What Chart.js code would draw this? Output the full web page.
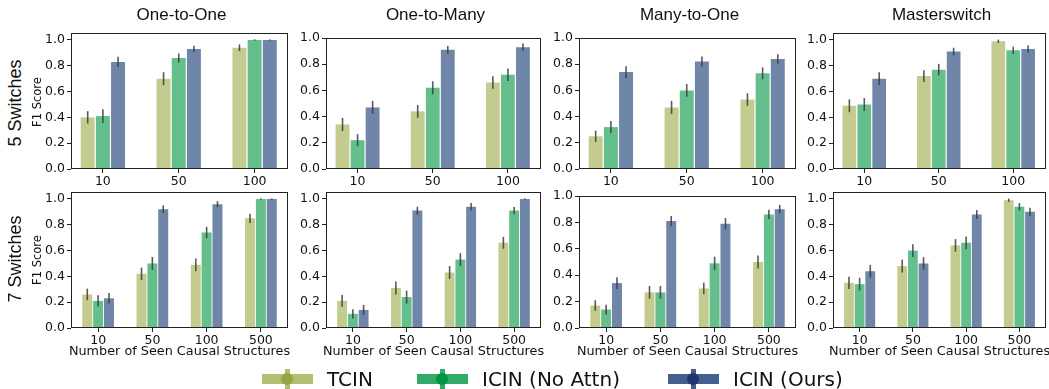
<!DOCTYPE html>
<html>
<head>
<meta charset="utf-8">
<script src="https://cdn.jsdelivr.net/npm/chart.js@4.4.0/dist/chart.umd.min.js"></script>
<style>
  body { margin: 0; background: #fff; }
  #fig { position: relative; width: 1049px; height: 389px; overflow: hidden; background: #fff; font-family: "DejaVu Sans", sans-serif; color: #111; }
  #fig canvas { position: absolute; }
  .txt { position: absolute; white-space: nowrap; line-height: 1; transform: translate(-50%, -50%); }
  .title { font-family: "Liberation Sans", Arial, sans-serif; font-size: 17px; }
  .rowlab { font-family: "Liberation Sans", Arial, sans-serif; font-size: 18px; transform: translate(-50%, -50%) rotate(-90deg); }
  .ylab { font-size: 11.5px; transform: translate(-50%, -50%) rotate(-90deg); }
  .xlab { font-size: 12.8px; }
  .leg { position: absolute; top: 369px; height: 20px; }
  .leg .h { position: absolute; left: 0; top: 5px; width: 51px; height: 10px; }
  .leg .v { position: absolute; left: 23px; top: 0; width: 5px; height: 20px; }
  .leg .d { position: absolute; left: 19px; top: 4px; width: 12px; height: 12px; border-radius: 50%; }
  .leg span { position: absolute; left: 65px; top: 10px; transform: translateY(-50%); font-size: 20px; line-height: 1; white-space: nowrap; }
</style>
</head>
<body>
<div id="fig"></div>
<script>
// categories
const cats5 = ['10', '50', '100'];
const cats7 = ['10', '50', '100', '500'];
const seriesNames = ['TCIN', 'ICIN (No Attn)', 'ICIN (Ours)'];
const yTicks = [0, 0.2, 0.4, 0.6, 0.8, 1.0];

// 5 switches: [TCIN, ICIN (No Attn), ICIN (Ours)]
const oneToOne5 = [[0.40, 0.70, 0.94], [0.41, 0.86, 1.00], [0.83, 0.93, 1.00]];
const oneToOne5Err = [[0.048, 0.05, 0.026], [0.054, 0.035, 0.005], [0.04, 0.025, 0.005]];
const oneToMany5 = [[0.34, 0.44, 0.66], [0.22, 0.62, 0.72], [0.47, 0.91, 0.93]];
const oneToMany5Err = [[0.05, 0.048, 0.048], [0.046, 0.05, 0.048], [0.05, 0.03, 0.028]];
const manyToOne5 = [[0.25, 0.47, 0.53], [0.32, 0.60, 0.73], [0.74, 0.82, 0.84]];
const manyToOne5Err = [[0.043, 0.05, 0.048], [0.046, 0.048, 0.046], [0.045, 0.038, 0.036]];
const master5 = [[0.49, 0.72, 0.99], [0.50, 0.77, 0.92], [0.70, 0.91, 0.93]];
const master5Err = [[0.05, 0.045, 0.013], [0.05, 0.045, 0.028], [0.049, 0.03, 0.028]];

// 7 switches
const oneToOne7 = [[0.26, 0.42, 0.49, 0.85], [0.21, 0.50, 0.74, 1.00], [0.23, 0.92, 0.96, 1.00]];
const oneToOne7Err = [[0.045, 0.048, 0.049, 0.036], [0.044, 0.05, 0.044, 0.005], [0.041, 0.03, 0.023, 0.005]];
const oneToMany7 = [[0.21, 0.31, 0.43, 0.66], [0.11, 0.24, 0.53, 0.91], [0.14, 0.91, 0.94, 1.00]];
const oneToMany7Err = [[0.045, 0.05, 0.05, 0.046], [0.036, 0.05, 0.05, 0.028], [0.039, 0.03, 0.028, 0.005]];
const manyToOne7 = [[0.17, 0.27, 0.30, 0.50], [0.14, 0.27, 0.49, 0.86], [0.34, 0.81, 0.79, 0.90]];
const manyToOne7Err = [[0.04, 0.048, 0.044, 0.049], [0.037, 0.048, 0.05, 0.035], [0.045, 0.039, 0.043, 0.032]];
const master7 = [[0.35, 0.48, 0.64, 0.99], [0.34, 0.60, 0.66, 0.94], [0.44, 0.50, 0.88, 0.90]];
const master7Err = [[0.048, 0.05, 0.049, 0.013], [0.049, 0.049, 0.049, 0.028], [0.049, 0.049, 0.034, 0.031]];

const barColors = ['#c4cb8e', '#64bf8c', '#6f86a8'];
const legLight = ['#b2be70', '#34aa69', '#465f91'];
const legDark = ['#96a545', '#009646', '#1e3773'];

const fig = document.getElementById('fig');

const cols = [[71, 288], [326, 541], [579, 796], [833, 1046]];
const panels = [
  {cats: cats5, vals: oneToOne5, errs: oneToOne5Err, col: 0, top: 33, bottom: 169, ymax: 1.054, xr: [-0.42, 2.44]},
  {cats: cats5, vals: oneToMany5, errs: oneToMany5Err, col: 1, top: 38, bottom: 169, ymax: 1.0, xr: [-0.42, 2.44]},
  {cats: cats5, vals: manyToOne5, errs: manyToOne5Err, col: 2, top: 38, bottom: 169, ymax: 1.0, xr: [-0.42, 2.44]},
  {cats: cats5, vals: master5, errs: master5Err, col: 3, top: 33, bottom: 169, ymax: 1.054, xr: [-0.42, 2.44]},
  {cats: cats7, vals: oneToOne7, errs: oneToOne7Err, col: 0, top: 192, bottom: 328, ymax: 1.054, xr: [-0.5, 3.5]},
  {cats: cats7, vals: oneToMany7, errs: oneToMany7Err, col: 1, top: 192, bottom: 328, ymax: 1.054, xr: [-0.5, 3.5]},
  {cats: cats7, vals: manyToOne7, errs: manyToOne7Err, col: 2, top: 196, bottom: 328, ymax: 1.0, xr: [-0.5, 3.5]},
  {cats: cats7, vals: master7, errs: master7Err, col: 3, top: 192, bottom: 328, ymax: 1.054, xr: [-0.5, 3.5]}
];

const errorBars = {
  id: 'errorBars',
  afterDatasetsDraw(chart) {
    const ctx = chart.ctx, y = chart.scales.y;
    ctx.save();
    ctx.strokeStyle = 'rgba(60,60,60,0.85)';
    ctx.lineWidth = 1.6;
    chart.data.datasets.forEach((ds, i) => {
      chart.getDatasetMeta(i).data.forEach((bar, j) => {
        const v = ds.data[j].y, e = ds.errors[j];
        ctx.beginPath();
        ctx.moveTo(bar.x, y.getPixelForValue(v + e));
        ctx.lineTo(bar.x, y.getPixelForValue(v - e));
        ctx.stroke();
      });
    });
    ctx.restore();
  }
};

const frame = {
  id: 'frame',
  afterDraw(chart) {
    const a = chart.chartArea, ctx = chart.ctx;
    ctx.save();
    ctx.strokeStyle = '#222';
    ctx.lineWidth = 1;
    ctx.strokeRect(Math.round(a.left) + 0.5, Math.round(a.top) + 0.5,
      Math.round(a.right - a.left) - 1, Math.round(a.bottom - a.top) - 1);
    ctx.restore();
  }
};

const tickFont = {family: 'DejaVu Sans', size: 12.5};

panels.forEach(p => {
  const [L, R] = cols[p.col];
  const padL = 46, padR = 8, padT = 10, axisH = 24;
  const w = R - L + padL + padR;
  const h = p.bottom - p.top + padT + axisH;
  const c = document.createElement('canvas');
  c.width = w; c.height = h;
  c.style.width = w + 'px'; c.style.height = h + 'px';
  c.style.left = (L - padL) + 'px'; c.style.top = (p.top - padT) + 'px';
  fig.appendChild(c);

  new Chart(c, {
    type: 'bar',
    data: {
      datasets: seriesNames.map((name, k) => ({
        label: name,
        data: p.vals[k].map((v, i) => ({x: i, y: v})),
        errors: p.errs[k],
        backgroundColor: barColors[k],
        borderWidth: 0,
        categoryPercentage: 0.6,
        barPercentage: 0.92
      }))
    },
    options: {
      responsive: false,
      animation: false,
      devicePixelRatio: 1,
      layout: {padding: {left: 0, right: padR, top: padT, bottom: 0}},
      plugins: {legend: {display: false}, tooltip: {enabled: false}},
      scales: {
        x: {
          type: 'linear', min: p.xr[0], max: p.xr[1], offset: false,
          afterBuildTicks: s => { s.ticks = p.cats.map((_, i) => ({value: i})); },
          afterFit: s => { s.height = axisH; },
          ticks: {callback: v => p.cats[Math.round(v)], font: tickFont, color: '#111', padding: 1, maxRotation: 0, autoSkip: false},
          grid: {display: true, offset: false, drawOnChartArea: false, drawTicks: true, tickLength: 4, tickColor: '#222'},
          border: {display: false}
        },
        y: {
          min: 0, max: p.ymax,
          afterBuildTicks: s => { s.ticks = yTicks.map(v => ({value: v})); },
          afterFit: s => { s.width = padL; },
          ticks: {callback: v => v.toFixed(1), font: tickFont, color: '#111', padding: 2},
          grid: {display: true, drawOnChartArea: false, drawTicks: true, tickLength: 4, tickColor: '#222'},
          border: {display: false}
        }
      }
    },
    plugins: [errorBars, frame]
  });
});

function addText(cls, text, x, y) {
  const d = document.createElement('div');
  d.className = 'txt ' + cls;
  d.textContent = text;
  d.style.left = x + 'px'; d.style.top = y + 'px';
  fig.appendChild(d);
}

const titles = ['One-to-One', 'One-to-Many', 'Many-to-One', 'Masterswitch'];
titles.forEach((t, i) => addText('title', t, (cols[i][0] + cols[i][1]) / 2 + 2, 14));
addText('rowlab', '5 Switches', 15, 103);
addText('rowlab', '7 Switches', 15, 259);
addText('ylab', 'F1 Score', 38, 102);
addText('ylab', 'F1 Score', 38, 260);
cols.forEach(c => addText('xlab', 'Number of Seen Causal Structures', (c[0] + c[1]) / 2, 351));

// legend
const legX = [262, 417, 668];
seriesNames.forEach((name, k) => {
  const g = document.createElement('div');
  g.className = 'leg';
  g.style.left = legX[k] + 'px';
  g.innerHTML = '<div class="h"></div><div class="v"></div><div class="d"></div><span></span>';
  g.querySelector('.h').style.background = legLight[k];
  g.querySelector('.v').style.background = legLight[k];
  g.querySelector('.d').style.background = legDark[k];
  g.querySelector('span').textContent = name;
  fig.appendChild(g);
});
</script>
</body>
</html>
